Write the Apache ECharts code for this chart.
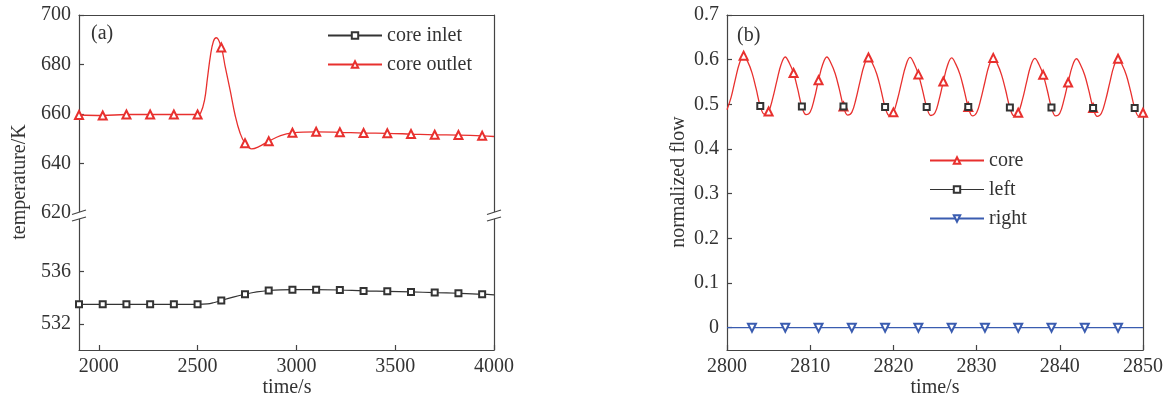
<!DOCTYPE html>
<html>
<head>
<meta charset="utf-8">
<script src="https://cdn.jsdelivr.net/npm/echarts@6/dist/echarts.min.js"></script>
<style>html,body{margin:0;padding:0;background:#fff;}#c{width:1171px;height:402px;}</style>
</head>
<body>
<div id="c"></div>
<script>
// ---------- Panel (a): temperatures ----------
const tempMarkTimes = [1900,2020,2140,2260,2380,2500,2620,2740,2860,2980,3100,3220,3340,3460,3580,3700,3820,3940];
const inletMarkVals = [533.5,533.5,533.5,533.5,533.5,533.5,533.8,534.27,534.56,534.62,534.62,534.6,534.53,534.5,534.45,534.4,534.35,534.28];
const outletMarkVals = [659.6,659.4,659.8,659.8,659.8,659.8,686.9,648.2,649.0,652.4,652.8,652.6,652.3,652.2,651.9,651.6,651.5,651.2];
const inletCurveTimes = [2550,2580,2680,2800,2920,4000];
const inletCurveVals = [533.53,533.62,534.05,534.45,534.61,534.22];
const outletCurveTimes = [2515,2535,2550,2565,2580,2595,2640,2665,2690,2715,2774,2810,2920,4000];
const outletCurveVals = [660.3,665.5,674.5,683.5,689.3,690.8,679.0,669.5,659.5,652.3,645.9,646.8,651.3,650.9];
const tempXTicks = [2000,2500,3000,3500,4000];
const upperYTicks = [620,640,660,680,700];
const lowerYTicks = [532,536];

// ---------- Panel (b): normalized flow ----------
const flowStart = 2800, flowStep = 0.5;
const coreFlow = [
  0.488,0.516,0.556,0.592,0.609,0.595,0.571,0.535,0.496,0.478,
  0.484,0.514,0.553,0.589,0.606,0.592,0.570,0.534,0.495,0.477,
  0.483,0.513,0.554,0.589,0.606,0.592,0.569,0.534,0.495,0.476,
  0.482,0.512,0.552,0.588,0.605,0.591,0.568,0.533,0.494,0.475,
  0.482,0.512,0.551,0.587,0.605,0.591,0.567,0.532,0.494,0.475,
  0.481,0.511,0.551,0.587,0.604,0.590,0.567,0.532,0.494,0.474,
  0.481,0.511,0.550,0.587,0.604,0.590,0.566,0.531,0.493,0.474,
  0.481,0.510,0.549,0.586,0.603,0.589,0.566,0.531,0.493,0.474,
  0.480,0.510,0.549,0.585,0.602,0.588,0.565,0.530,0.492,0.473,
  0.480,0.509,0.548,0.585,0.602,0.588,0.565,0.530,0.492,0.473,
  0.481
];
const coreMarkTimes = [2802,2805,2808,2811,2814,2817,2820,2823,2826,2829,2832,2835,2838,2841,2844,2847,2850];
const leftMarkTimes = [2804,2809,2814,2819,2824,2829,2834,2839,2844,2849];
const rightTimes = [2800,2803,2807,2811,2815,2819,2823,2827,2831,2835,2839,2843,2847,2850];
const rightFlow  = [0,0,0,0,0,0,0,0,0,0,0,0,0,0];
const rightMarkTimes = [2803,2807,2811,2815,2819,2823,2827,2831,2835,2839,2843,2847];
const flowXTicks = [2800,2810,2820,2830,2840,2850];
const flowYTicks = [0,0.1,0.2,0.3,0.4,0.5,0.6,0.7];

// ---------- helpers ----------
function mergeTemp(markT, markV, curveT, curveV) {
  const pts = markT.map((t,i)=>({value:[t,markV[i]]}));
  curveT.forEach((t,i)=>pts.push({value:[t,curveV[i]], symbol:'none'}));
  pts.sort((a,b)=>a.value[0]-b.value[0]);
  return pts;
}
const flowTimes = coreFlow.map((_,i)=>flowStart + i*flowStep);
function flowData(vals, times, marks) {
  return vals.map((v,i)=>{
    const o = {value:[times[i], v]};
    if (!marks.includes(times[i])) o.symbol = 'none';
    return o;
  });
}

const FONT = '"Liberation Serif", "DejaVu Serif", serif';
const TXT = '#333';
const AX = '#444';
const RED = '#e8302e';
const BLUE = '#3a5cb0';
const BLK = '#333';

const lineAxis = {show:true, onZero:false, lineStyle:{color:AX, width:1.2}};
const labelStyle = {color:TXT, fontFamily:FONT, fontSize:20, fontWeight:'normal'};
const plainFmt = v => String(+(+v).toFixed(1));

const chart = echarts.init(document.getElementById('c'));

const A_L = 79, A_R = 494, A_T = 15, A_MID = 213, A_B = 350;
const B_L = 727, B_R = 1143, B_T = 15, B_B = 350;

function breakMark(x) {
  return [
    {type:'polygon', z:100, shape:{points:[[x-7,214.5],[x+7,210],[x+7,217],[x-7,221]]}, style:{fill:'#fff', stroke:null}},
    {type:'line', z:101, shape:{x1:x-7,y1:214.5,x2:x+7,y2:210}, style:{stroke:AX, lineWidth:1.2}},
    {type:'line', z:101, shape:{x1:x-7,y1:221,x2:x+7,y2:217}, style:{stroke:AX, lineWidth:1.2}}
  ];
}
function lbl(extra) { return Object.assign({formatter:plainFmt}, labelStyle, extra); }
const hiddenAxis = {axisLine:lineAxis, axisTick:{show:false}, axisLabel:{show:false}, splitLine:{show:false}};
const TFONT = '20px "Liberation Serif", serif';

const option = {
  animation:false,
  backgroundColor:'#fff',
  textStyle:{fontFamily:FONT},
  grid:[
    {left:A_L, width:A_R-A_L, top:A_T, height:A_MID-A_T, outerBoundsMode:'none', containLabel:false},
    {left:A_L, width:A_R-A_L, top:A_MID, height:A_B-A_MID, outerBoundsMode:'none', containLabel:false},
    {left:B_L, width:B_R-B_L, top:B_T, height:B_B-B_T, outerBoundsMode:'none', containLabel:false}
  ],
  xAxis:[
    Object.assign({gridIndex:0, type:'value', min:1900, max:4000, position:'top'}, hiddenAxis),
    {gridIndex:1, type:'value', min:1900, max:4000, position:'bottom', axisLine:lineAxis,
      axisTick:{show:true, inside:true, length:5, customValues:tempXTicks, lineStyle:{color:AX, width:1.2}},
      axisLabel:lbl({margin:7, customValues:tempXTicks}), splitLine:{show:false}},
    {gridIndex:2, type:'value', min:2800, max:2850, interval:10, position:'bottom', axisLine:lineAxis,
      axisTick:{show:true, inside:true, length:5, lineStyle:{color:AX, width:1.2}},
      axisLabel:lbl({margin:7, customValues:flowXTicks}), splitLine:{show:false}},
    Object.assign({gridIndex:2, type:'value', min:2800, max:2850, position:'top'}, hiddenAxis)
  ],
  yAxis:[
    {gridIndex:0, type:'value', min:620, max:700, position:'left', axisLine:lineAxis,
      axisTick:{show:true, inside:true, length:5, customValues:upperYTicks, lineStyle:{color:AX, width:1.2}},
      axisLabel:lbl({margin:8, customValues:upperYTicks}), splitLine:{show:false}},
    Object.assign({gridIndex:0, type:'value', min:620, max:700, position:'right'}, hiddenAxis),
    {gridIndex:1, type:'value', min:530, max:540.5, position:'left', axisLine:lineAxis,
      axisTick:{show:true, inside:true, length:5, customValues:lowerYTicks, lineStyle:{color:AX, width:1.2}},
      axisLabel:lbl({margin:8, customValues:lowerYTicks}), splitLine:{show:false}},
    Object.assign({gridIndex:1, type:'value', min:530, max:540.5, position:'right'}, hiddenAxis),
    {gridIndex:2, type:'value', min:-0.05, max:0.7, position:'left', axisLine:lineAxis,
      axisTick:{show:true, inside:true, length:5, customValues:flowYTicks, lineStyle:{color:AX, width:1.2}},
      axisLabel:lbl({margin:8, customValues:flowYTicks}), splitLine:{show:false}},
    Object.assign({gridIndex:2, type:'value', min:-0.05, max:0.7, position:'right'}, hiddenAxis)
  ],
  legend:[
    {left:322, top:20.5, orient:'vertical', itemWidth:54, itemHeight:8, itemGap:9, selectedMode:false,
      textStyle:{color:TXT, fontFamily:FONT, fontSize:20}, data:['core inlet','core outlet']},
    {left:924, top:145.5, orient:'vertical', itemWidth:54, itemHeight:8, itemGap:9, selectedMode:false,
      textStyle:{color:TXT, fontFamily:FONT, fontSize:20},
      data:['core', {name:'left', lineStyle:{color:BLK, opacity:1, width:1.2}}, 'right']}
  ],
  series:[
    {name:'core inlet', type:'line', xAxisIndex:1, yAxisIndex:2, smooth:0.4, showAllSymbol:true,
      symbol:'emptyRect', symbolSize:6, itemStyle:{color:BLK, borderWidth:1.2}, lineStyle:{color:BLK, width:1.2},
      data:mergeTemp(tempMarkTimes, inletMarkVals, inletCurveTimes, inletCurveVals)},
    {name:'core outlet', type:'line', xAxisIndex:0, yAxisIndex:0, smooth:0.4, showAllSymbol:true,
      symbol:'emptyTriangle', symbolSize:8, itemStyle:{color:RED, borderWidth:1.2}, lineStyle:{color:RED, width:1.3},
      data:mergeTemp(tempMarkTimes, outletMarkVals, outletCurveTimes, outletCurveVals)},
    {name:'core', type:'line', xAxisIndex:2, yAxisIndex:4, smooth:0.4, showAllSymbol:true, z:3,
      symbol:'emptyTriangle', symbolSize:8, itemStyle:{color:RED, borderWidth:1.2}, lineStyle:{color:RED, width:1.3},
      data:flowData(coreFlow, flowTimes, coreMarkTimes)},
    {name:'left', type:'line', xAxisIndex:2, yAxisIndex:4, smooth:0.4, showAllSymbol:true, z:4,
      symbol:'emptyRect', symbolSize:6, itemStyle:{color:BLK, borderWidth:1.2}, lineStyle:{color:BLK, width:1.2, opacity:0},
      data:flowData(coreFlow, flowTimes, leftMarkTimes)},
    {name:'right', type:'line', xAxisIndex:2, yAxisIndex:4, showAllSymbol:true, z:3,
      symbol:'emptyTriangle', symbolRotate:180, symbolSize:8, itemStyle:{color:BLUE, borderWidth:1.2}, lineStyle:{color:BLUE, width:1.3},
      data:flowData(rightFlow, rightTimes, rightMarkTimes)}
  ],
  graphic:[
    ...breakMark(A_L), ...breakMark(A_R),
    {type:'text', z:50, left:91, top:24, style:{text:'(a)', fill:TXT, font:TFONT}},
    {type:'text', z:50, left:737, top:26, style:{text:'(b)', fill:TXT, font:TFONT}},
    {type:'text', z:50, x:20, y:182, rotation:Math.PI/2, style:{text:'temperature/K', fill:TXT, font:TFONT, align:'center', verticalAlign:'middle'}},
    {type:'text', z:50, x:287, y:388, style:{text:'time/s', fill:TXT, font:TFONT, align:'center', verticalAlign:'middle'}},
    {type:'text', z:50, x:679, y:182, rotation:Math.PI/2, style:{text:'normalized flow', fill:TXT, font:TFONT, align:'center', verticalAlign:'middle'}},
    {type:'text', z:50, x:935, y:388, style:{text:'time/s', fill:TXT, font:TFONT, align:'center', verticalAlign:'middle'}}
  ]
};
chart.setOption(option);
</script>
</body>
</html>
